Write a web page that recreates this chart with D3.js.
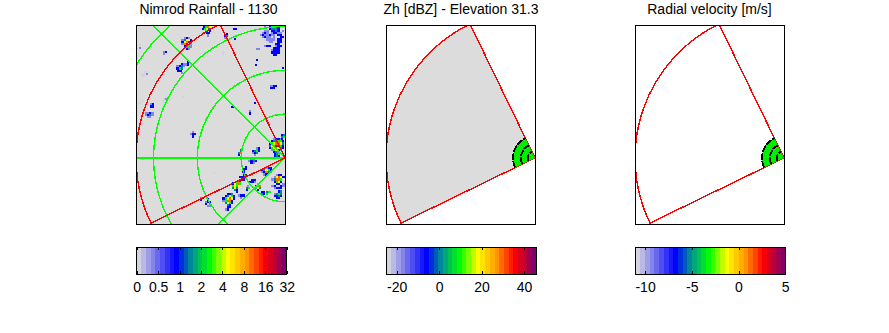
<!DOCTYPE html>
<html>
<head>
<meta charset="utf-8">
<title>Radar panels</title>
<script src="https://d3js.org/d3.v7.min.js"></script>
<style>
body {margin: 0; background: white;}
text {font-family: "Liberation Sans", Arial, sans-serif; font-size: 14px; fill: black;}
.crisp {shape-rendering: crispEdges;}
</style>
</head>
<body>
<svg width="889" height="333"></svg>
<script>
var titles = ["Nimrod Rainfall - 1130", "Zh [dBZ] - Elevation 31.3", "Radial velocity [m/s]"];
var panelLeft = [136, 386, 635];
var barLeft = [136.7, 386.7, 635.7];
var sectorFill = ["none", "#dcdcdc", "white"];

// grid, in km round the radar
var rings = [50, 100, 150, 200];
var spokes = [-135, -90, -45];
var sectorAz = [-115.9, -25.9];
var maxRange = 170;
var wedgeRings = [8, 16, 25];

// colour bars
var rainTicks = ["0", "0.5", "1", "2", "4", "8", "16", "32"];
var rainTickValues = [0, 0.5, 1, 2, 4, 8, 16, 32];
var zhDomain = [-24.7, 46];
var zhTicks = [-20, 0, 20, 40];
var velDomain = [-11, 5.05];
var velTicks = [-10, -5, 0, 5];
var rampStops = [0, 0.255, 0.37, 0.49, 0.61, 0.74, 0.86, 1];
var rampColours = ["#d4d4e0", "#0000ff", "#009a8c", "#00ff00", "#ffff00", "#ff9600", "#ff0000", "#80006a"];
var rampBands = 32;

// rain level of each character in the cluster rows, mm/h
var rainLevels = [0, 0.1, 0.4, 0.9, 1.5, 2.8, 5, 10, 18, 32];

// rain clusters: centre east/north in km, rows of cells
var rainEast = [-112, -89, -119, -112, -15, -57, -67, -57, -32, -33, -13, -59, -34, -40, -71, -137, -167, -160, -137, -152, -165, -155, -116, -2, -31, -105, -162, -51, -33, -37, -10, -9, -2, -46, -81, -21, -37, -31, -42, -25, -19, -8, -8, -48, -54, -57, -64, -88, -95, -51];
var rainNorth = [131, 146, 102, 108, 134, 147, 139, 136, 112, 106, 81, 58, 63, 52, 120, 120, 127, 96, 65, 60, 64, 49, 70, 103, 124, 27, 40, 6, 7, -3, 14, 3, 24, -13, -17, -15, -26, -33, -34, -40, -40, -27, -42, -22, -29, -34, -50, -51, -47, -44];
var rainRows = [
	[".232.", "24663", "36783", "27862", ".3752", "..32."],
	["3565", "3576", "3564.", ".563", ".33", ".2"],
	["..32", "2342", "354.", "33.", ".2"],
	[".3", "23"],
	["..2.35533..", "....34443..", "..22.3343.2", ".232.23322.", "2322322.33.", ".2322.2..33", "..12222.33.", "...122..33.", ".......33..", "..233..233.", "......333..", ".....2333..", ".....3333..", "......33..."],
	["33"],
	[".3", "34", "2."],
	["3"],
	["3"],
	["3"],
	["233", "33."],
	["33"],
	["3"],
	["2", "3"],
	["1", "1"],
	["23", "2."],
	[".1", "12"],
	[".11", "112", "11."],
	["12", "11", "1."],
	["23", "33"],
	["..1", "11."],
	["2232", "2342", ".22."],
	["1"],
	["3"],
	["22"],
	[".2.", "233", ".3."],
	["1", "1"],
	[".4", "47", "3."],
	["..23", "3453", "234.", ".2.."],
	[".22.", "2343", ".32."],
	["..2332.", ".344553", "3567764", "4678853", "3567643", ".25632.", "..342.."],
	["345", "343"],
	["34", "45", "3."],
	[".3", "33", "3."],
	["1"],
	["..233", "34653", "23742", ".23.."],
	[".33", "332"],
	[".2.", "357", "264", ".3."],
	["2", "45", "3."],
	["33", "43"],
	["45", "5."],
	["..233.", ".26763", "24775.", ".3563.", "..33.2", "23..32", ".2333."],
	["..34", "2454", "3343", ".33."],
	["..39", "3398", ".93."],
	[".78", "775", "56."],
	["365", "565", "464", ".43", "..3"],
	["..334.", ".34653", "356763", "25773.", ".4653.", "..43..", "..33..", ".23..."],
	[".3.", "233", "3.2", ".22"],
	["23", "3."],
	["1233", "..2."]
];

var svg = d3.select("svg");
var cellKm = 2.5;
var rad = Math.PI / 180;

var ramp = d3.scaleLinear().domain(rampStops).range(rampColours).interpolate(d3.interpolateRgb);
var rampBand = function (f) {
	var i = Math.min(rampBands - 1, Math.floor(f * rampBands));
	return ramp(i / (rampBands - 1));
};
var rainFraction = d3.scaleLinear()
	.domain(rainTickValues)
	.range(rainTickValues.map(function (d, i) { return i / (rainTickValues.length - 1); }));

var rScale = d3.scaleLinear().domain([0, maxRange]).range([0, 149]);

panelLeft.forEach(function (left, p) {
	var x = d3.scaleLinear().domain([-maxRange, 0]).range([left, left + 149]);
	var y = d3.scaleLinear().domain([151.7, -75.3]).range([25, 224]);

	var clipId = "clip" + p;
	svg.append("clipPath").attr("id", clipId)
		.append("rect").attr("x", left).attr("y", 25).attr("width", 149).attr("height", 199);

	var g = svg.append("g").attr("clip-path", "url(#" + clipId + ")");
	var centre = "translate(" + x(0) + "," + y(0) + ")";

	if (p == 0) {
		g.append("rect").attr("x", left).attr("y", 25).attr("width", 149).attr("height", 199).attr("fill", "#dcdcdc");

		// rain field
		var cells = [];
		rainRows.forEach(function (rows, c) {
			var nRows = rows.length;
			rows.forEach(function (row, j) {
				row.split("").forEach(function (ch, i) {
					if (ch != ".") {
						cells.push({
							e: rainEast[c] + (i - row.length / 2) * cellKm,
							n: rainNorth[c] - (j - nRows / 2) * cellKm,
							v: rainLevels[+ch]
						});
					}
				});
			});
		});
		g.selectAll("rect.rain").data(cells).enter().append("rect")
			.classed("rain", true).classed("crisp", true)
			.attr("x", function (d) { return x(d.e); })
			.attr("y", function (d) { return y(d.n); })
			.attr("width", x(cellKm) - x(0))
			.attr("height", y(0) - y(cellKm))
			.attr("fill", function (d) { return rampBand(rainFraction(d.v)); });

		// green range rings and spokes
		g.selectAll("path.ring").data(rings).enter().append("path")
			.attr("class", "ring crisp")
			.attr("transform", centre)
			.attr("d", function (d) {
				return d3.lineRadial().curve(d3.curveLinearClosed)
					.angle(function (a) { return a * rad; })
					.radius(rScale(d))(d3.range(0, 360, 2));
			})
			.attr("fill", "none").attr("stroke", "#00ff00").attr("stroke-width", 1.4);
		g.selectAll("path.spoke").data(spokes).enter().append("path")
			.attr("class", "spoke crisp")
			.attr("transform", centre)
			.attr("d", function (d) {
				return d3.lineRadial()([[0, 0], [d * rad, rScale(300)]]);
			})
			.attr("fill", "none").attr("stroke", "#00ff00").attr("stroke-width", 1.4);
	}

	// sector outline
	var sector = d3.arc().innerRadius(0).outerRadius(rScale(maxRange))
		.startAngle(sectorAz[0] * rad).endAngle(sectorAz[1] * rad);
	g.append("path").attr("class", "crisp")
		.attr("transform", centre)
		.attr("d", sector())
		.attr("fill", sectorFill[p])
		.attr("stroke", "#ff0000").attr("stroke-width", 1.4);

	// near range gates of the high elevation scan
	if (p > 0) {
		var wedge = d3.arc().innerRadius(0).outerRadius(rScale(d3.max(wedgeRings)))
			.startAngle(sectorAz[0] * rad).endAngle(sectorAz[1] * rad);
		g.append("path").attr("transform", centre).attr("d", wedge()).attr("fill", "#00ee00");
		g.selectAll("path.gate").data(wedgeRings).enter().append("path")
			.attr("class", "gate crisp")
			.attr("transform", centre)
			.attr("d", function (d) {
				return d3.lineRadial()
					.angle(function (a) { return a * rad; })
					.radius(rScale(d))(d3.range(sectorAz[0], sectorAz[1] + 1, 3));
			})
			.attr("fill", "none").attr("stroke", "black").attr("stroke-width", 1.8)
			.attr("stroke-dasharray", "7,1");
	}

	svg.append("rect").attr("class", "crisp")
		.attr("x", left).attr("y", 25).attr("width", 149).attr("height", 199)
		.attr("fill", "none").attr("stroke", "black");

	svg.append("text")
		.attr("x", [208.5, 461, 709.5][p]).attr("y", 14)
		.attr("text-anchor", "middle")
		.text(titles[p]);

	// colour bar
	var bl = barLeft[p], bw = 150;
	var barG = svg.append("g");
	d3.range(rampBands).forEach(function (i) {
		barG.append("rect").attr("class", "crisp")
			.attr("x", bl + bw * i / rampBands).attr("y", 247)
			.attr("width", bw / rampBands + 0.5).attr("height", 27)
			.attr("fill", ramp(i / (rampBands - 1)));
	});

	var scale, ticks;
	if (p == 0) {
		scale = d3.scalePoint().domain(rainTicks).range([bl, bl + bw]);
		ticks = rainTicks;
	} else if (p == 1) {
		scale = d3.scaleLinear().domain(zhDomain).range([bl, bl + bw]);
		ticks = zhTicks;
	} else {
		scale = d3.scaleLinear().domain(velDomain).range([bl, bl + bw]);
		ticks = velTicks;
	}
	var axisB = d3.axisBottom(scale).tickValues(ticks).tickSizeInner(-3).tickSizeOuter(0).tickPadding(8)
		.tickFormat(function (d) { return String(d); });
	var axisT = d3.axisTop(scale).tickValues(ticks).tickSizeInner(-3).tickSizeOuter(0).tickFormat("");

	var gB = svg.append("g").attr("transform", "translate(0,274)").call(axisB);
	var gT = svg.append("g").attr("transform", "translate(0,247)").call(axisT);
	gB.selectAll(".domain").remove();
	gT.selectAll(".domain").remove();
	gB.selectAll("text").style("font-size", "14px").style("font-family", "Liberation Sans");
	gB.selectAll("line").attr("class", "crisp");
	gT.selectAll("line").attr("class", "crisp");

	svg.append("rect").attr("class", "crisp")
		.attr("x", bl).attr("y", 247).attr("width", bw).attr("height", 27)
		.attr("fill", "none").attr("stroke", "black");
});
</script>
</body>
</html>
